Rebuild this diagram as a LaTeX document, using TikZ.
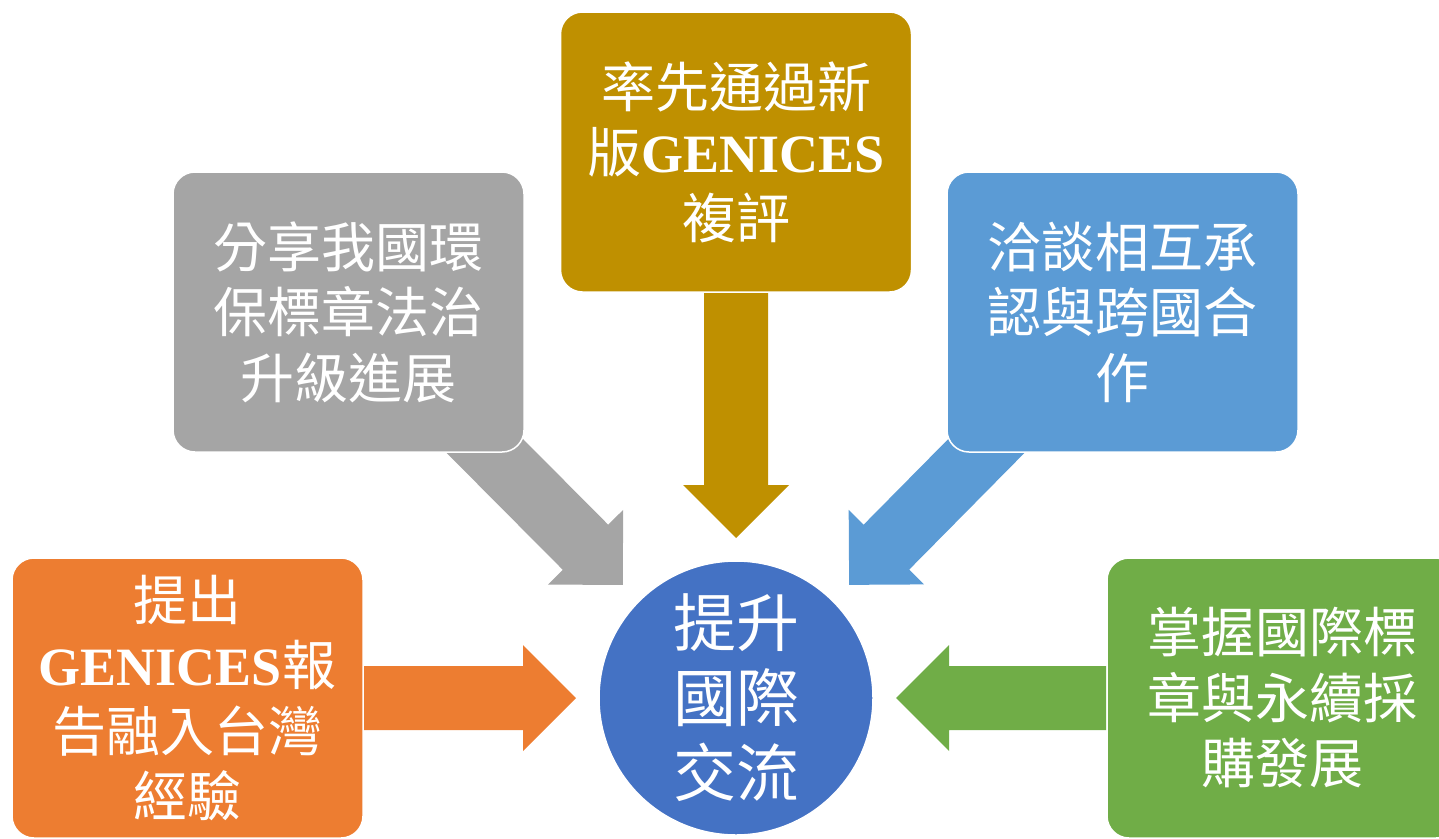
\documentclass[tikz,border=0pt]{standalone}
\usepackage{fontspec}
\setmainfont{Noto Sans CJK TC}
\newfontfamily\tnr{Liberation Serif}
\usetikzlibrary{calc,backgrounds}

\definecolor{boxgray}{HTML}{A5A5A5}
\definecolor{boxgold}{HTML}{BF9000}
\definecolor{boxblue}{HTML}{5B9BD5}
\definecolor{boxorange}{HTML}{ED7D31}
\definecolor{boxgreen}{HTML}{70AD47}
\definecolor{hubblue}{HTML}{4472C4}

\tikzset{
  topic/.style={rectangle, rounded corners=22pt, draw=white, line width=1.5pt,
    minimum width=351pt, minimum height=280pt, inner sep=0pt,
    text=white, align=center, font=\fontsize{54}{65.5}\selectfont},
  hub/.style={circle, fill=hubblue, draw=white, line width=1.5pt,
    minimum size=274pt, inner sep=0pt, outer sep=23pt,
    text=white, align=center, font=\fontsize{63}{75}\selectfont}
}

% fat arrow: colour, foot, tip
\newcommand\bigarrow[3]{%
  \coordinate (head) at ($(#3)!53pt!(#2)$);
  \fill[#1] ($(#2)!32pt!90:(#3)$) -- ($(head)!32pt!-90:(#2)$)
    -- ($(head)!53pt!-90:(#2)$) -- (#3)
    -- ($(head)!53pt!90:(#2)$) -- ($(head)!32pt!90:(#2)$)
    -- ($(#2)!32pt!-90:(#3)$) -- cycle;
}

\begin{document}
\begin{tikzpicture}[x=1pt,y=-1pt]
    \useasboundingbox (0,0) rectangle (1439,838);

    % Centre
    \node[hub] (hub) at (736,698) {提升\\國際\\交流};

    % Topics
    \node[topic, fill=boxgray] (gray) at (348.5,312) {分享我國環\\保標章法治\\升級進展};
    \node[topic, fill=boxgold] (gold) at (736,152) {率先通過新\\版{\tnr\bfseries GENICES}\\複評};
    \node[topic, fill=boxblue] (blue) at (1122.5,312) {洽談相互承\\認與跨國合\\作};
    \node[topic, fill=boxorange] (orange) at (187.5,698) {提出\\{\tnr\bfseries GENICES}報\\告融入台灣\\經驗};
    \node[topic, fill=boxgreen] (green) at (1282.5,698) {掌握國際標\\章與永續採\\購發展};

    % Arrows into the centre
    \coordinate (grayfoot) at ($(gray.south east)+(-65,-32)$);
    \coordinate (bluefoot) at ($(blue.south west)+(65,-32)$);
    \begin{pgfonlayer}{background}
        \bigarrow{boxgray}{grayfoot}{hub.135}
        \bigarrow{boxgold}{gold.south}{hub.north}
        \bigarrow{boxblue}{bluefoot}{hub.45}
        \bigarrow{boxorange}{orange.east}{hub.west}
        \bigarrow{boxgreen}{green.west}{hub.east}
    \end{pgfonlayer}
\end{tikzpicture}
\end{document}
